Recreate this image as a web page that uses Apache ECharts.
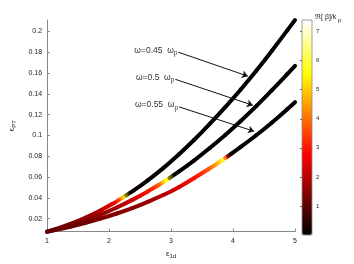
<!DOCTYPE html>
<html><head><meta charset="utf-8">
<script src="https://cdn.jsdelivr.net/npm/echarts@6/dist/echarts.min.js"></script>
<style>html,body{margin:0;padding:0;background:#fff}#c{width:354px;height:264px}</style>
</head><body><div id="c"></div>
<script>
// ---- data ----
const xTickValues = [1, 2, 3, 4, 5];
const colorbarTicks = [1, 2, 3, 4, 5, 6, 7];
const curveNames = ['ω=0.45', 'ω=0.5', 'ω=0.55'];

// ω = 0.45 ωp
const x045 = [1.0, 1.25, 1.5, 1.75, 2.0, 2.1, 2.2, 2.25, 2.3, 2.5, 2.75, 3.0, 3.25, 3.5, 3.75, 4.0, 4.25, 4.5, 4.75, 5.0];
const y045 = [0.0075, 0.0121, 0.0178, 0.0245, 0.0323, 0.0358, 0.0395, 0.0414, 0.0434, 0.0512, 0.0625, 0.0748, 0.0885, 0.1032, 0.1190, 0.1355, 0.1530, 0.1715, 0.1910, 0.2110];
const b045 = [1.1, 1.3, 1.5, 1.8, 2.3, 2.8, 4.0, 5.6, 0.1, 0.05, 0.05, 0.05, 0.05, 0.05, 0.05, 0.05, 0.05, 0.05, 0.05, 0.05];

// ω = 0.5 ωp
const x050 = [1.0, 1.25, 1.5, 1.75, 2.0, 2.25, 2.5, 2.75, 2.85, 2.9, 2.95, 3.0, 3.25, 3.5, 3.75, 4.0, 4.25, 4.5, 4.75, 5.0];
const y050 = [0.0075, 0.0113, 0.0158, 0.0212, 0.0273, 0.0342, 0.0420, 0.0505, 0.0542, 0.0561, 0.0580, 0.0600, 0.0705, 0.0818, 0.0940, 0.1070, 0.1208, 0.1355, 0.1510, 0.1670];
const b050 = [1.1, 1.2, 1.35, 1.5, 1.7, 2.0, 2.5, 3.3, 4.2, 5.5, 5.8, 0.1, 0.05, 0.05, 0.05, 0.05, 0.05, 0.05, 0.05, 0.05];

// ω = 0.55 ωp
const x055 = [1.0, 1.25, 1.5, 1.75, 2.0, 2.25, 2.5, 2.75, 3.0, 3.25, 3.5, 3.7, 3.8, 3.85, 3.9, 3.95, 4.0, 4.25, 4.5, 4.75, 5.0];
const y055 = [0.0075, 0.0105, 0.0140, 0.0180, 0.0225, 0.0275, 0.0330, 0.0395, 0.0460, 0.0545, 0.0637, 0.0713, 0.0752, 0.0772, 0.0793, 0.0814, 0.0835, 0.0945, 0.1060, 0.1185, 0.1320];
const b055 = [1.1, 1.15, 1.2, 1.3, 1.4, 1.5, 1.6, 1.8, 2.1, 2.6, 3.2, 4.2, 5.2, 6.0, 3.0, 0.1, 0.05, 0.05, 0.05, 0.05, 0.05];

// ---- chart ----
const hot = ['#000000', '#550000', '#aa0000', '#ff0000', '#ff5500', '#ffaa00', '#ffff00', '#ffff80', '#ffffff'];
const FONT = 'Liberation Sans';

function mid(a, b) { return [(a[0] + b[0]) / 2, (a[1] + b[1]) / 2]; }
function mix(a, b) { return echarts.color.lerp(0.5, [a, b]); }

function curve(xs, ys, bs, name) {
  return {
    type: 'custom', name: name, xAxisIndex: 0, yAxisIndex: 0, clip: false, silent: true,
    data: xs.map((x, i) => [x, ys[i], bs[i]]),
    encode: { x: 0, y: 1 },
    renderItem: function (params, api) {
      const i = params.dataIndexInside;
      const n = params.dataInsideLength;
      const P = api.coord([api.value(0), api.value(1)]);
      const c = api.visual('color');
      let S = P, E = P, cs = c, ce = c;
      if (i > 0) {
        const Pp = api.coord([api.value(0, i - 1), api.value(1, i - 1)]);
        S = mid(Pp, P); cs = mix(api.visual('color', i - 1), c);
      }
      if (i < n - 1) {
        const Pn = api.coord([api.value(0, i + 1), api.value(1, i + 1)]);
        E = mid(P, Pn); ce = mix(c, api.visual('color', i + 1));
      }
      return {
        type: 'bezierCurve',
        shape: { x1: S[0], y1: S[1], x2: E[0], y2: E[1], cpx1: P[0], cpy1: P[1] },
        style: {
          fill: 'none',
          stroke: new echarts.graphic.LinearGradient(S[0], S[1], E[0], E[1],
            [{ offset: 0, color: cs }, { offset: 0.5, color: c }, { offset: 1, color: ce }], true),
          lineWidth: 4, lineCap: 'round'
        }
      };
    }
  };
}

const arrows = [
  { from: [3.12, 0.180], to: [4.24, 0.157] },
  { from: [3.07, 0.154], to: [4.32, 0.129] },
  { from: [3.13, 0.1275], to: [4.34, 0.104] }
];

const chart = echarts.init(document.getElementById('c'), null, { renderer: 'canvas' });
chart.setOption({
  animation: false,
  textStyle: { fontFamily: FONT },
  grid: [
    { left: 42, right: 59, top: 20, bottom: 32 },
    { left: 302, width: 10, top: 20, height: 215 }
  ],
  xAxis: [{
    gridIndex: 0, type: 'value', min: xTickValues[0], max: xTickValues[xTickValues.length - 1], interval: 1,
    axisLine: { lineStyle: { color: '#888' } },
    axisTick: { inside: true, length: 3, lineStyle: { color: '#888' } },
    splitLine: { show: false },
    axisLabel: { fontSize: 7, color: '#222', margin: 6, fontFamily: FONT },
    name: '{e|ε}{s|1d}', nameLocation: 'middle', nameGap: 14,
    nameTextStyle: { rich: { e: { fontSize: 8, color: '#222', fontFamily: FONT }, s: { fontSize: 6, color: '#222', padding: [5, 0, 0, 0], fontFamily: FONT } } }
  }, {
    gridIndex: 1, type: 'value', min: 0, max: 1, show: false
  }],
  yAxis: [{
    gridIndex: 0, type: 'value', min: 0.0076, max: 0.211, splitNumber: 10,
    axisLine: { show: true, lineStyle: { color: '#888' } },
    axisTick: { show: true, inside: true, length: 3, lineStyle: { color: '#888' } },
    splitLine: { show: false },
    axisLabel: { fontSize: 7, color: '#222', margin: 5, showMinLabel: false, showMaxLabel: false, fontFamily: FONT },
    name: '{e|ε}{s|PT}', nameLocation: 'middle', nameRotate: 90, nameGap: 27,
    nameTextStyle: { rich: { e: { fontSize: 8, color: '#222', fontFamily: FONT }, s: { fontSize: 6, color: '#222', padding: [5, 0, 0, 0], fontFamily: FONT } } }
  }, {
    gridIndex: 1, type: 'value', min: 0, max: 7.4, interval: 1, position: 'right',
    axisLine: { show: false },
    axisTick: { show: true, inside: true, length: 2, lineStyle: { color: '#666' } },
    splitLine: { show: false },
    axisLabel: { fontSize: 6, color: '#222', margin: 4, showMinLabel: false, showMaxLabel: false, fontFamily: FONT,
      formatter: v => colorbarTicks.indexOf(v) >= 0 ? String(v) : '' }
  }],
  visualMap: {
    type: 'continuous', min: 0, max: 7.4, dimension: 2, seriesIndex: [0, 1, 2],
    inRange: { color: hot },
    calculable: false, realtime: false, hoverLink: false,
    left: 302, top: 20, itemWidth: 10, itemHeight: 215, padding: 0,
    text: null, showLabel: false
  },
  graphic: [
    { type: 'rect', shape: { x: 302, y: 20, width: 10, height: 215 }, style: { fill: 'none', stroke: '#888', lineWidth: 0.8 }, z: 100, silent: true },
    { type: 'text', x: 315, y: 12, z: 100, silent: true,
      style: { text: '{a|ℜ[ β]/k}{p| p}', rich: { a: { fontSize: 7, fill: '#222', fontFamily: FONT }, p: { fontSize: 6, fill: '#222', padding: [5, 0, 0, 0], fontFamily: FONT } } } }
  ],
  series: [
    curve(x045, y045, b045, curveNames[0]),
    curve(x050, y050, b050, curveNames[1]),
    curve(x055, y055, b055, curveNames[2]),
    {
      type: 'line', data: [], xAxisIndex: 0, yAxisIndex: 0, silent: true,
      markLine: {
        silent: true, symbol: ['none', 'arrow'], symbolSize: 6, animation: false,
        lineStyle: { color: '#111', width: 1, type: 'solid' }, label: { show: false },
        data: arrows.map(a => [{ coord: a.from }, { coord: a.to }])
      },
      markPoint: {
        silent: true, symbol: 'circle', symbolSize: 0, animation: false,
        label: {
          show: true, position: 'left', distance: 1, offset: [0, -2], color: '#333',
          rich: { a: { fontSize: 8.5, color: '#333', fontFamily: FONT }, p: { fontSize: 6.5, color: '#333', padding: [6, 0, 0, 0], fontFamily: FONT } }
        },
        data: arrows.map((a, i) => ({ coord: a.from, value: i, label: { formatter: '{a|' + curveNames[i] + '  ω}{p|p}' } }))
      }
    }
  ]
});
</script></body></html>
